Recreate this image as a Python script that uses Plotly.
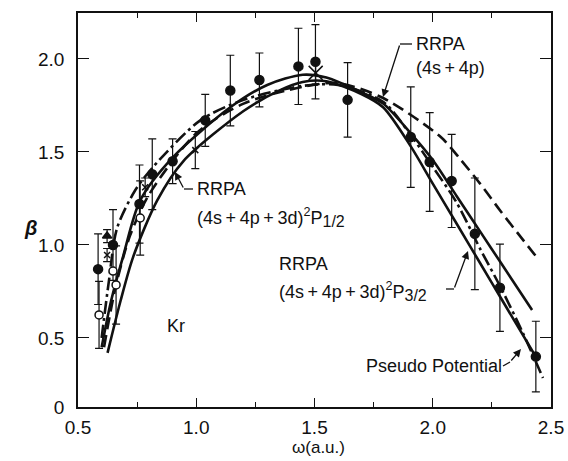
import plotly.graph_objects as go

# ---------------- data ----------------
# filled circles with error bars
fc_x = [0.585, 0.648, 0.760, 0.814, 0.900, 1.038, 1.144, 1.267, 1.432, 1.504, 1.640, 1.907, 1.987, 2.080, 2.178, 2.284, 2.436]
fc_y = [0.870, 1.000, 1.220, 1.380, 1.450, 1.670, 1.830, 1.887, 1.960, 1.985, 1.780, 1.580, 1.446, 1.344, 1.060, 0.770, 0.400]
fc_e = [0.190, 0.190, 0.210, 0.190, 0.120, 0.140, 0.190, 0.145, 0.205, 0.200, 0.200, 0.270, 0.265, 0.250, 0.300, 0.235, 0.190]
# open circles
oc_x = [0.589, 0.648, 0.661, 0.763]
oc_y = [0.624, 0.860, 0.785, 1.145]
oc_e = [0.180, 0.000, 0.210, 0.200]
# triangles
tr_x = [0.623]
tr_y = [1.048]
tr_e = [0.035]
# small crosses
cr_x = [0.623, 0.784, 0.996]
cr_y = [0.946, 1.310, 1.510]
cr_e = [0.035, 0.050, 0.100]
# large X
bx_x = [1.505]
bx_y = [1.925]
bx_e = [0.060]

# theory curves
s1_x = [0.600, 0.640, 0.690, 0.763, 0.900, 1.144, 1.300, 1.450, 1.550, 1.700, 1.790, 1.907, 2.000, 2.100, 2.200, 2.288, 2.420]
s1_y = [0.450, 0.700, 0.935, 1.240, 1.470, 1.740, 1.860, 1.915, 1.900, 1.820, 1.760, 1.600, 1.457, 1.265, 1.073, 0.904, 0.650]
s2_x = [0.625, 0.680, 0.733, 0.835, 0.945, 1.200, 1.350, 1.450, 1.550, 1.700, 1.790, 1.907, 2.000, 2.100, 2.200, 2.288, 2.440]
s2_y = [0.420, 0.700, 0.935, 1.240, 1.450, 1.720, 1.830, 1.876, 1.880, 1.810, 1.740, 1.530, 1.330, 1.117, 0.903, 0.715, 0.390]
dd_x = [0.600, 0.630, 0.665, 0.740, 0.818, 1.017, 1.200, 1.450, 1.600, 1.790, 1.907, 2.000, 2.100, 2.200, 2.288, 2.380, 2.466]
dd_y = [0.500, 0.800, 1.090, 1.290, 1.420, 1.670, 1.780, 1.855, 1.860, 1.770, 1.590, 1.420, 1.230, 0.980, 0.770, 0.530, 0.285]
da_x = [0.610, 0.660, 0.720, 0.800, 1.000, 1.200, 1.450, 1.600, 1.790, 2.034, 2.119, 2.200, 2.288, 2.380, 2.449]
da_y = [0.450, 0.780, 1.050, 1.270, 1.600, 1.760, 1.850, 1.870, 1.790, 1.580, 1.457, 1.330, 1.180, 1.030, 0.919]

# axis ticks
y_tickvals = [0.129, 0.5, 1.0, 1.5, 2.0]
y_ticktext = ["0", "0.5", "1.0", "1.5", "2.0"]
x_tickvals = [0.5, 1.0, 1.5, 2.0, 2.5]
x_ticktext = ["0.5", "1.0", "1.5", "2.0", "2.5"]

FONT = "Liberation Sans, Arial, sans-serif"
BLK = "#111111"

# plot-area geometry in pixels
L, R, T, B = 78, 551, 13, 407
W, H = 568, 461

def px(x):
    return (x - L) / (R - L)

def py(y):
    return (B - y) / (B - T)

fig = go.Figure()

def curve(x, y, dash):
    fig.add_trace(go.Scatter(x=x, y=y, mode="lines", line=dict(color=BLK, width=2.6, dash=dash, shape="spline", smoothing=0.8),
                             showlegend=False, hoverinfo="skip"))

curve(s1_x, s1_y, "solid")
curve(s2_x, s2_y, "solid")
curve(dd_x, dd_y, "13px,4px,3px,4px")
curve(da_x, da_y, "12px,6px")

def pts(x, y, e, symbol, size, fill):
    fig.add_trace(go.Scatter(x=x, y=y, mode="markers",
                             marker=dict(symbol=symbol, size=size, color=fill, line=dict(color=BLK, width=1.5)),
                             error_y=dict(type="data", array=e, visible=True, color=BLK, thickness=1.2, width=4),
                             showlegend=False, hoverinfo="skip"))

pts(fc_x, fc_y, fc_e, "circle", 9, BLK)
pts(oc_x, oc_y, oc_e, "circle", 8, "white")
pts(tr_x, tr_y, tr_e, "triangle-up", 8, BLK)
pts(cr_x, cr_y, cr_e, "x-thin", 6, BLK)
pts(bx_x, bx_y, bx_e, "x-thin", 14, BLK)

TS = "\u2009"  # thin space around plus signs
plus = TS + "+" + TS
formula = "(4s" + plus + "4p" + plus + "3d)"
ann_font = dict(family=FONT, size=18, color=BLK)
annotations = [
    dict(x=414, y=44, text="RRPA"),
    dict(x=414, y=68, text="(4s" + plus + "4p)"),
    dict(x=195, y=189, text="RRPA"),
    dict(x=195, y=217, text=formula + "<sup>2</sup>P<sub><span style='font-size:16px'>1/2</span></sub>"),
    dict(x=277, y=264, text="RRPA"),
    dict(x=277, y=291, text=formula + "<sup>2</sup>P<sub><span style='font-size:16px'>3/2</span></sub>"),
    dict(x=364, y=366, text="Pseudo Potential"),
    dict(x=165, y=326, text="Kr"),
]
anns = []
for a in annotations:
    anns.append(dict(x=px(a["x"]), y=py(a["y"]), xref="paper", yref="paper", text=a["text"],
                     xanchor="left", yanchor="middle", showarrow=False, font=ann_font))
# axis titles
anns.append(dict(x=px(318), y=py(447), xref="paper", yref="paper", text="ω(a.u.)", showarrow=False,
                 xanchor="center", yanchor="middle", font=dict(family=FONT, size=17, color=BLK)))
anns.append(dict(x=px(30), y=py(228), xref="paper", yref="paper", text="<b><i>β</i></b>", showarrow=False,
                 xanchor="center", yanchor="middle", font=dict(family=FONT, size=20, color=BLK)))

# arrow heads (pixel offsets)
for (ax, ay, x, y) in [(400, 44, 383, 97), (184, 189, 175, 172), (454, 289, 468, 251), (510, 362, 521, 349)]:
    anns.append(dict(x=px(x), y=py(y), xref="paper", yref="paper",
                     ax=ax - x, ay=ay - y, axref="pixel", ayref="pixel", text="", showarrow=True,
                     arrowhead=2, arrowsize=1.2, arrowwidth=1.3, arrowcolor=BLK))

shapes = []
def seg(x0, y0, x1, y1):
    shapes.append(dict(type="line", xref="paper", yref="paper", x0=px(x0), y0=py(y0), x1=px(x1), y1=py(y1),
                       line=dict(color=BLK, width=1.3)))
# horizontal parts of leader lines (pixels)
seg(412, 44, 400, 44)
seg(193, 189, 184, 189)
seg(446, 289, 454, 289)
seg(503, 366, 510, 362)

tickfont = dict(family=FONT, size=19, color=BLK)
fig.update_layout(
    width=W, height=H, autosize=False,
    margin=dict(l=L, r=W - R, t=T, b=H - B, pad=0),
    paper_bgcolor="white", plot_bgcolor="white",
    annotations=anns, shapes=shapes,
    font=dict(family=FONT, size=17, color=BLK),
    xaxis=dict(range=[0.5, 2.5], tickvals=x_tickvals, ticktext=x_ticktext, ticks="inside", ticklen=9,
               tickwidth=1.3, tickcolor=BLK, showline=True, linecolor=BLK, linewidth=1.5, mirror="ticks",
               showgrid=False, zeroline=False, tickfont=tickfont, ticklabelstandoff=2, automargin=False,
               minor=dict(tickvals=[0.75, 1.25, 1.75, 2.25], ticks="inside", ticklen=5, tickwidth=1.2, tickcolor=BLK)),
    yaxis=dict(range=[0.129, 2.247], tickvals=y_tickvals, ticktext=y_ticktext, ticks="inside", ticklen=11,
               tickwidth=1.3, tickcolor=BLK, showline=True, linecolor=BLK, linewidth=1.5, mirror="ticks",
               showgrid=False, zeroline=False, tickfont=tickfont, ticklabelstandoff=8, automargin=False),
)

fig.write_html("out.html")
